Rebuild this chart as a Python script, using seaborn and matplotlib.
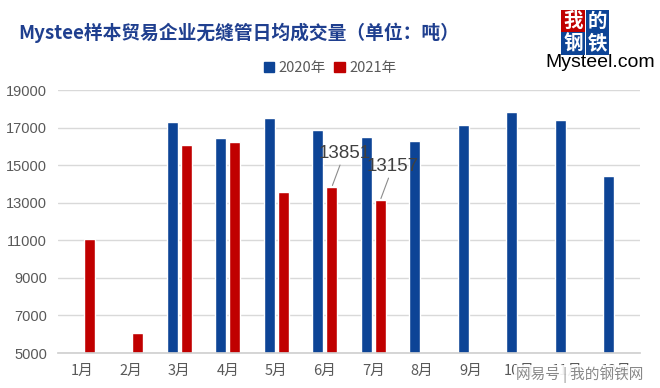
import numpy as np
import pandas as pd
import matplotlib
matplotlib.use("Agg")
import matplotlib.pyplot as plt
import seaborn as sns
from matplotlib.patches import Patch

# data
months = ["1月", "2月", "3月", "4月", "5月", "6月", "7月", "8月", "9月", "10月", "11月", "12月"]
vol_2020 = [np.nan, np.nan, 17300, 16450, 17500, 16850, 16500, 16280, 17150, 17820, 17400, 14420]
vol_2021 = [11070, 6060, 16070, 16220, 13570, 13851, 13157, np.nan, np.nan, np.nan, np.nan, np.nan]
years = ["2020年", "2021年"]
yticks = [5000, 7000, 9000, 11000, 13000, 15000, 17000, 19000]
labelled = ["6月", "7月"]

df = pd.DataFrame({
    "month": months * 2,
    "year": [years[0]] * 12 + [years[1]] * 12,
    "value": vol_2020 + vol_2021,
})

sns.set_theme(style="white")
plt.rcParams["font.family"] = ["Noto Sans CJK SC", "DejaVu Sans"]

blue = "#0d4496"
red = "#c00000"

fig = plt.figure(figsize=(6.6, 3.88), dpi=100)
ax = fig.add_axes([0.088, 0.09, 0.882, 0.678])

sns.barplot(data=df, x="month", y="value", hue="year", order=months,
            hue_order=years, palette=[blue, red], width=0.58, gap=0.22,
            saturation=1, ax=ax, legend=False)

ax.set_ylim(5000, 19000)
ax.set_xlim(-0.5, 11.5)
ax.set_yticks(yticks)
ax.set_xlabel("")
ax.set_ylabel("")
ax.grid(axis="y", color="#d9d9d9", lw=1)
ax.set_axisbelow(True)
for s in ["top", "right", "left"]:
    ax.spines[s].set_visible(False)
ax.spines["bottom"].set_color("#d0d0d0")
ax.tick_params(axis="both", length=0, colors="#595959", labelsize=10.5, pad=8)
for t in ax.get_yticklabels():
    t.set_fontfamily(["Liberation Sans", "DejaVu Sans"])

# data labels on 2021 June / July
bars21 = ax.containers[1]
for m in labelled:
    i = months.index(m)
    b = bars21[i]
    xb = b.get_x() + b.get_width() / 2
    yb = b.get_height()
    ax.annotate(f"{int(vol_2021[i])}", xy=(xb, yb), xytext=(9, 18),
                textcoords="offset points", ha="center", va="bottom",
                fontsize=13.5, color="#404040", family=["Liberation Sans", "DejaVu Sans"],
                arrowprops=dict(arrowstyle="-", color="#8c8c8c", lw=0.8,
                                shrinkA=0, shrinkB=1))

# legend
handles = [Patch(color=blue), Patch(color=red)]
fig.legend(handles, years, loc="center", bbox_to_anchor=(0.5, 0.825), ncol=2,
           frameon=False, fontsize=10.5, handlelength=0.7, handleheight=0.7,
           handletextpad=0.3, columnspacing=0.6, labelcolor="#595959")

# title
fig.text(0.027, 0.915, "Mystee样本贸易企业无缝管日均成交量（单位：吨）", fontsize=13.5,
         fontweight="bold", color="#1f3f8f", va="center", ha="left")

# logo
for ch, x, y, c in [("我", 0.868, 0.944, red), ("的", 0.905, 0.944, blue),
                    ("钢", 0.868, 0.887, blue), ("铁", 0.905, 0.887, blue)]:
    fig.text(x, y, ch, fontsize=14, fontweight="bold", color="white", ha="center", va="center",
             bbox=dict(boxstyle="square,pad=0.1", fc=c, ec="none"))
fig.text(0.909, 0.838, "Mysteel.com", fontsize=14, color="black", ha="center", va="center",
         family=["Liberation Sans", "DejaVu Sans"])

# watermark
fig.text(0.878, 0.035, "网易号 | 我的钢铁网", fontsize=10.5, color="#888888", ha="center", va="center",
         bbox=dict(boxstyle="square,pad=0.1", fc="white", ec="none", alpha=0.9))

fig.savefig("out.png", dpi=100)
